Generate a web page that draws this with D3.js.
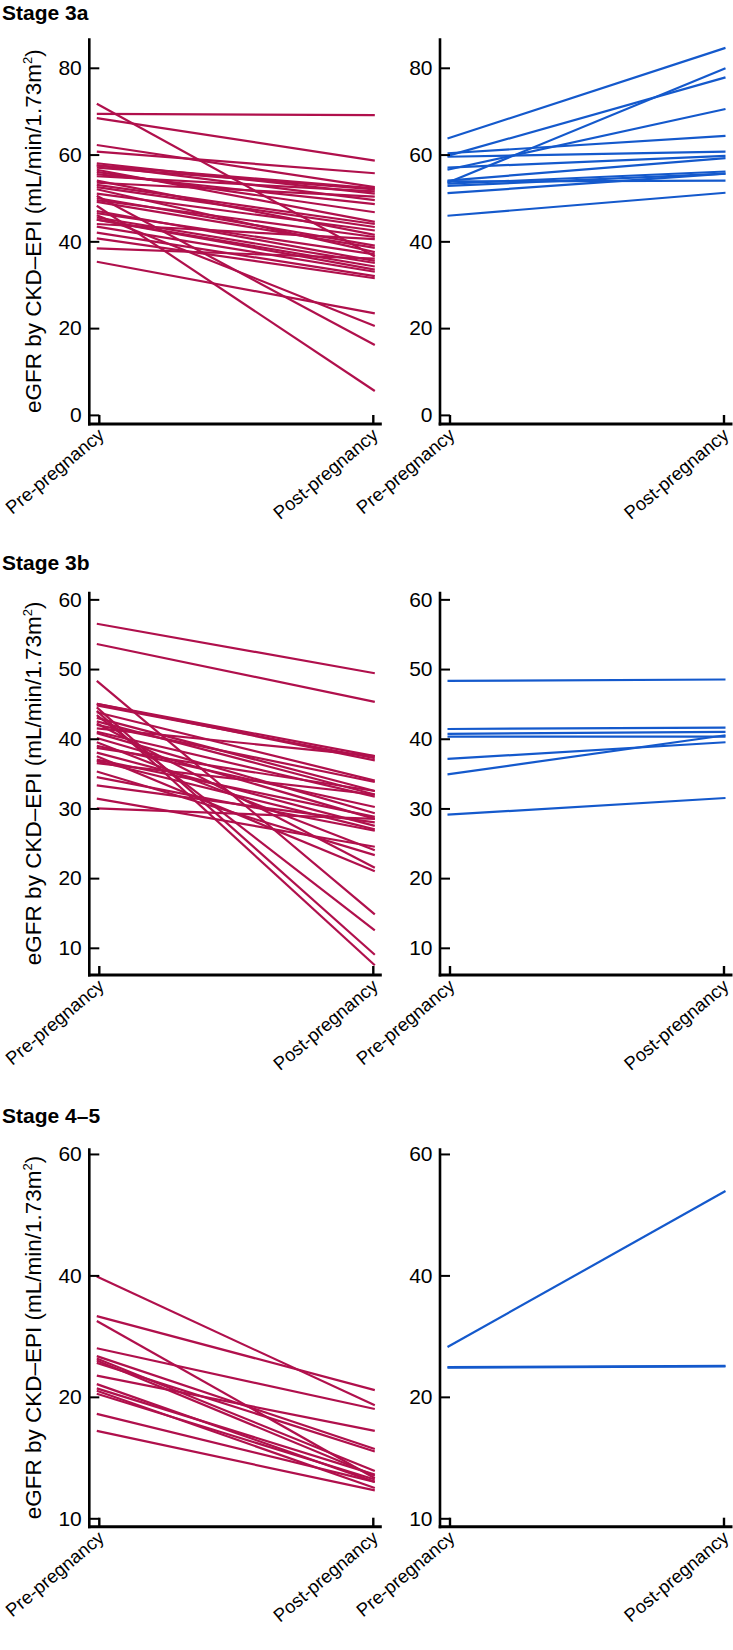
<!DOCTYPE html>
<html><head><meta charset="utf-8">
<script src="https://cdn.jsdelivr.net/npm/d3@7"></script>
<style>
body{margin:0;background:#fff}
svg{display:block}
text{font-family:"Liberation Sans",Arial,Helvetica,sans-serif;fill:#000}
</style>
</head><body>
<svg id="c" width="733" height="1650"></svg>
<script>
// ---------- data ----------
const xCategories = ["Pre-pregnancy", "Post-pregnancy"];
const stageTitles = ["Stage 3a", "Stage 3b", "Stage 4\u20135"];
const stage3aTicks = [0, 20, 40, 60, 80];
const stage3bTicks = [10, 20, 30, 40, 50, 60];
const stage45Ticks = [10, 20, 40, 60];

// Stage 3a — declining (red)
const stage3aRedPre  = [69.4, 68.4, 71.7, 62.2, 60.7, 58.0, 57.5, 57.0, 56.5, 56.0, 55.5, 55.0, 54.0, 53.0, 52.5, 52.0, 51.0, 50.5, 50.0, 49.5, 49.1, 48.2, 47.0, 46.5, 46.0, 45.5, 45.0, 45.0, 44.0, 43.4, 42.0, 40.7, 38.4, 35.3, 53.5, 57.5];
const stage3aRedPost = [69.1, 58.6, 36.5, 52.5, 55.7, 51.0, 49.5, 52.0, 44.5, 46.7, 48.6, 51.5, 41.5, 44.0, 43.3, 37.5, 42.5, 16.1, 39.0, 41.0, 38.5, 5.5, 35.5, 37.0, 20.5, 35.0, 34.2, 33.5, 40.5, 33.0, 32.0, 31.5, 36.0, 23.4, 50.3, 52.2];
// Stage 3a — improving (blue)
const stage3aBluePre  = [63.7, 59.7, 53.5, 56.5, 60.3, 59.5, 57.0, 54.0, 53.3, 52.8, 53.8, 51.1, 45.9];
const stage3aBluePost = [84.6, 77.8, 79.9, 70.5, 64.3, 60.7, 59.7, 59.2, 56.1, 55.6, 54.0, 55.6, 51.2];

// Stage 3b
const stage3bRedPre  = [56.5, 53.6, 48.3, 45.0, 44.8, 44.5, 44.0, 43.8, 43.4, 43.0, 42.5, 42.2, 41.5, 41.0, 40.8, 40.1, 39.5, 39.0, 38.7, 38.0, 37.5, 37.0, 36.8, 36.5, 35.3, 34.5, 33.3, 31.4, 30.0, 45.0, 42.0];
const stage3bRedPost = [49.4, 45.3, 14.8, 37.5, 37.2, 9.0, 7.5, 34.0, 12.5, 32.5, 32.0, 21.5, 37.5, 31.7, 29.3, 28.5, 24.0, 30.2, 32.5, 27.5, 21.0, 28.8, 27.0, 32.0, 23.3, 26.8, 28.0, 24.5, 28.5, 36.9, 33.8];
const stage3bBluePre  = [48.3, 41.4, 40.7, 40.3, 37.1, 34.9, 29.1];
const stage3bBluePost = [48.5, 41.6, 41.0, 40.3, 39.5, 40.5, 31.5];

// Stage 4–5
const stage45RedPre  = [39.8, 33.3, 32.5, 28.0, 26.7, 26.3, 26.0, 25.6, 23.5, 22.1, 21.4, 21.0, 20.5, 18.6, 17.2];
const stage45RedPost = [19.3, 21.1, 13.3, 19.0, 15.7, 13.9, 13.5, 15.5, 17.2, 13.0, 13.6, 12.5, 13.2, 13.0, 12.3];
const stage45BluePre  = [28.2, 24.9, 24.8];
const stage45BluePost = [53.9, 25.1, 25.0];

// ---------- layout & style ----------
const RED = "#B0104C", BLUE = "#1459CC";
const colAxisX = [89.3, 440];
const svg = d3.select("#c");

const rows = [
  { title: stageTitles[0], titleY: 20, top: 38.3, bottom: 424, ticks: stage3aTicks,
    y: d3.scaleLinear().domain([-2.1, 86.8]).range([424, 38.3]),
    red: [stage3aRedPre, stage3aRedPost], blue: [stage3aBluePre, stage3aBluePost] },
  { title: stageTitles[1], titleY: 570, top: 591.7, bottom: 975, ticks: stage3bTicks,
    y: d3.scaleLinear().domain([6.1, 61.1]).range([975, 591.7]),
    red: [stage3bRedPre, stage3bRedPost], blue: [stage3bBluePre, stage3bBluePost] },
  { title: stageTitles[2], titleY: 1123, top: 1148.3, bottom: 1526.7, ticks: stage45Ticks,
    // axis with equally spaced ticks 10, 20, 40, 60 (as in the figure)
    y: d3.scaleLinear().domain(stage45Ticks).range(stage45Ticks.map((d, i) => 1518.3 - i * 121.45)),
    red: [stage45RedPre, stage45RedPost], blue: [stage45BluePre, stage45BluePost] }
];

function drawPanel(row, axisX, series, color, withTitle) {
  const g = svg.append("g");
  const x = d3.scalePoint().domain(xCategories).range([axisX + 9.5, axisX + 283.5]);
  const y = row.y;

  // data lines
  g.append("g").selectAll("line")
    .data(d3.zip(series[0], series[1]))
    .join("line")
    .attr("x1", x(xCategories[0]) - 2).attr("x2", x(xCategories[1]) + 2)
    .attr("y1", d => y(d[0])).attr("y2", d => y(d[1]))
    .attr("stroke", color).attr("stroke-width", 2.2);

  // y axis
  const ya = g.append("g").attr("transform", `translate(${axisX},0)`)
    .call(d3.axisLeft(y).tickValues(row.ticks).tickSizeInner(-10).tickSizeOuter(0).tickPadding(7.5));
  ya.select(".domain").remove();
  ya.selectAll(".tick line").attr("stroke", "#000").attr("stroke-width", 2);
  ya.selectAll(".tick text").attr("font-size", 21).attr("font-family", null).attr("fill", "#000");
  g.append("line").attr("x1", axisX).attr("x2", axisX)
    .attr("y1", row.top).attr("y2", row.bottom + 1.5)
    .attr("stroke", "#000").attr("stroke-width", 2.6);

  // x axis
  const xa = g.append("g").attr("transform", `translate(0,${row.bottom})`)
    .call(d3.axisBottom(x).tickSizeInner(-9).tickSizeOuter(0));
  xa.select(".domain").remove();
  xa.selectAll(".tick line").attr("stroke", "#000").attr("stroke-width", 2.4);
  xa.selectAll(".tick text")
    .attr("font-size", 18.5).attr("font-family", null).attr("fill", "#000")
    .attr("x", 0).attr("y", 0).attr("dy", null)
    .attr("text-anchor", "end")
    .attr("transform", "translate(6,13) rotate(-40)");
  g.append("line").attr("x1", axisX - 1.3).attr("x2", axisX + 292.5)
    .attr("y1", row.bottom).attr("y2", row.bottom)
    .attr("stroke", "#000").attr("stroke-width", 3);

  if (withTitle) {
    const t = g.append("text")
      .attr("transform", `translate(41,${(row.top + row.bottom) / 2}) rotate(-90)`)
      .attr("text-anchor", "middle").attr("font-size", 22.5);
    t.append("tspan").text("eGFR by CKD\u2013EPI (mL/min/1.73m");
    t.append("tspan").attr("dy", -9).attr("font-size", 13).text("2");
    t.append("tspan").attr("dy", 9).text(")");
  }
}

rows.forEach(row => {
  svg.append("text").attr("x", 2).attr("y", row.titleY)
    .attr("font-size", 21).attr("font-weight", "bold").text(row.title);
  drawPanel(row, colAxisX[0], row.red, RED, true);
  drawPanel(row, colAxisX[1], row.blue, BLUE, false);
});
</script>
</body></html>
